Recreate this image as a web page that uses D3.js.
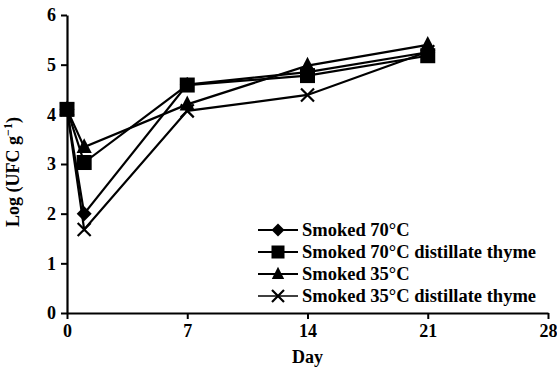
<!DOCTYPE html>
<html>
<head>
<meta charset="utf-8">
<script src="https://cdn.jsdelivr.net/npm/d3@7"></script>
<style>
  body { margin: 0; background: #fff; }
  svg { display: block; }
  text { font-family: "Liberation Serif", "Times New Roman", serif; fill: #000; }
</style>
</head>
<body>
<script>
// data
var days = [0, 1, 7, 14, 21];
var smoked70 = [4.1, 2.0, 4.6, 4.85, 5.25];
var smoked70Thyme = [4.1, 3.03, 4.59, 4.78, 5.18];
var smoked35 = [4.1, 3.34, 4.2, 4.98, 5.4];
var smoked35Thyme = [4.1, 1.68, 4.07, 4.39, 5.26];
var xTicks = [0, 7, 14, 21, 28];
var yTicks = [0, 1, 2, 3, 4, 5, 6];
var names = ["Smoked 70°C", "Smoked 70°C distillate thyme", "Smoked 35°C", "Smoked 35°C distillate thyme"];
var symbols = ["diamond", "square", "triangle", "cross"];

var SERIES = [smoked70, smoked70Thyme, smoked35, smoked35Thyme].map(function (vals, i) {
    return {name: names[i], sym: symbols[i], pts: days.map(function (d, j) { return {day: d, v: vals[j]}; })};
});

var W = 557, H = 371;
var MARGINS = {left: 67, right: 9, top: 15, bottom: 58};
var width = W - MARGINS.left - MARGINS.right;
var height = H - MARGINS.top - MARGINS.bottom;

var xScale = d3.scaleLinear().domain([0, 28]).range([0, width]);
var yScale = d3.scaleLinear().domain([0, 6]).range([height, 0]);

var svg = d3.select("body").append("svg")
    .attr("width", W)
    .attr("height", H)
    .append("g")
    .attr("transform", "translate(" + MARGINS.left + "," + MARGINS.top + ")");

// axes
var xAxis = svg.append("g")
    .attr("transform", "translate(0," + height + ")")
    .call(d3.axisBottom(xScale).tickValues(xTicks).tickFormat(d3.format("d")).tickSize(6).tickSizeOuter(0).tickPadding(5));
var yAxis = svg.append("g")
    .call(d3.axisLeft(yScale).tickValues(yTicks).tickFormat(d3.format("d")).tickSize(6).tickSizeOuter(0).tickPadding(5));
[xAxis, yAxis].forEach(function (a) {
    a.select(".domain").attr("stroke", "#000").attr("stroke-width", 2.2);
    a.selectAll(".tick line").attr("stroke", "#000").attr("stroke-width", 2);
    a.selectAll(".tick text").style("font-size", "18px").style("font-weight", "bold")
        .style("font-family", "Liberation Serif, serif").attr("fill", "#000");
});

// lines
var line = d3.line().x(function (d) { return xScale(d.day); }).y(function (d) { return yScale(d.v); });

function drawSymbol(g, sym, x, y, s) {
    if (sym === "diamond") {
        g.append("path").attr("d", "M" + x + "," + (y - s) + "L" + (x + s) + "," + y + "L" + x + "," + (y + s) + "L" + (x - s) + "," + y + "Z").attr("fill", "#000");
    } else if (sym === "square") {
        g.append("rect").attr("x", x - s).attr("y", y - s).attr("width", 2 * s).attr("height", 2 * s).attr("fill", "#000");
    } else if (sym === "triangle") {
        g.append("path").attr("d", "M" + x + "," + (y - s * 1.1) + "L" + (x + s * 0.95) + "," + (y + s * 0.75) + "L" + (x - s * 0.95) + "," + (y + s * 0.75) + "Z").attr("fill", "#000");
    } else {
        g.append("path").attr("d", "M" + (x - s) + "," + (y - s) + "L" + (x + s) + "," + (y + s) + "M" + (x + s) + "," + (y - s) + "L" + (x - s) + "," + (y + s))
            .attr("stroke", "#000").attr("stroke-width", 2.2).attr("fill", "none");
    }
}

var sizes = {diamond: 7.5, square: 7.5, triangle: 8, cross: 6.5};

// draw in reverse so the first series sits on top
SERIES.slice().reverse().forEach(function (s) {
    svg.append("path").datum(s.pts).attr("d", line)
        .attr("fill", "none").attr("stroke", "#000").attr("stroke-width", 2.2);
    var g = svg.append("g");
    s.pts.forEach(function (p) {
        drawSymbol(g, s.sym, xScale(p.day), yScale(p.v), sizes[s.sym]);
    });
});

// legend
var legend = svg.append("g").attr("transform", "translate(" + (258 - MARGINS.left) + "," + (230 - MARGINS.top) + ")");
SERIES.forEach(function (s, i) {
    var row = legend.append("g").attr("transform", "translate(0," + (i * 22) + ")");
    row.append("line").attr("x1", 0).attr("x2", 40).attr("y1", 0).attr("y2", 0)
        .attr("stroke", "#000").attr("stroke-width", i === 3 ? 1.6 : 2.2);
    drawSymbol(row, s.sym, 20, 0, s.sym === "cross" ? 6 : 6.5);
    row.append("text").attr("x", 44).attr("y", 0).attr("dy", "0.35em")
        .style("font-size", "18.5px").style("font-weight", "bold").text(s.name);
});

// axis titles
svg.append("text")
    .attr("x", xScale(14)).attr("y", height + 50)
    .attr("text-anchor", "middle").style("font-size", "18px").style("font-weight", "bold").text("Day");

var yt = svg.append("text")
    .attr("transform", "translate(" + (19 - MARGINS.left) + "," + (172 - MARGINS.top) + ") rotate(-90)")
    .attr("text-anchor", "middle").style("font-size", "18px").style("font-weight", "bold");
yt.append("tspan").text("Log (UFC g");
yt.append("tspan").attr("dy", "-7").style("font-size", "12px").text("−1");
yt.append("tspan").attr("dy", "7").text(")");
</script>
</body>
</html>
